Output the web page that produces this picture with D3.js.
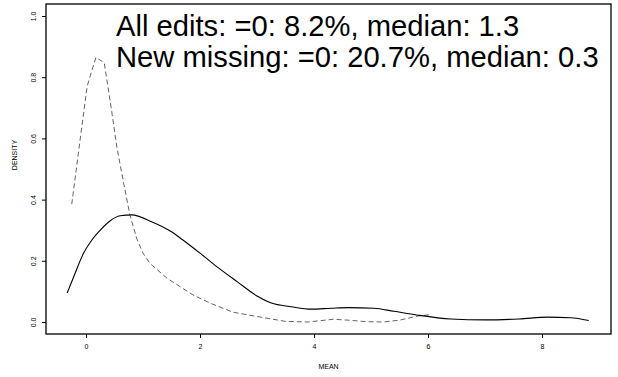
<!DOCTYPE html>
<html>
<head>
<meta charset="utf-8">
<script src="https://cdn.jsdelivr.net/npm/d3@7"></script>
<style>
  html, body { margin: 0; padding: 0; background: #fff; }
  svg { display: block; }
  text { font-family: "Liberation Sans", Arial, Helvetica, sans-serif; fill: #000; }
</style>
</head>
<body>
<svg id="chart" width="618" height="377"></svg>
<script>
// Density estimates of MEAN for two groups of edits
const allEditsX = [-0.33, -0.2, -0.05, 0.1, 0.25, 0.42, 0.6, 0.8, 1.15, 1.5, 1.7, 2.0, 2.3, 2.65, 3.0, 3.25, 3.6, 3.95, 4.3, 4.6, 5.05, 5.4, 5.8, 6.4, 7.0, 7.6, 8.1, 8.5, 8.82];
const allEditsY = [0.095, 0.155, 0.222, 0.267, 0.3, 0.33, 0.347, 0.35, 0.328, 0.295, 0.268, 0.225, 0.18, 0.132, 0.085, 0.062, 0.05, 0.042, 0.045, 0.047, 0.045, 0.035, 0.023, 0.01, 0.007, 0.01, 0.016, 0.014, 0.005];

const newMissingX = [-0.25, -0.1, 0.02, 0.1, 0.175, 0.32, 0.45, 0.54, 0.65, 0.77, 0.89, 1.0, 1.12, 1.42, 1.88, 2.2, 2.58, 3.0, 3.5, 3.9, 4.34, 4.6, 4.93, 5.22, 5.5, 5.83, 6.05];
const newMissingY = [0.385, 0.6, 0.77, 0.82, 0.865, 0.847, 0.69, 0.573, 0.464, 0.35, 0.273, 0.225, 0.192, 0.143, 0.088, 0.06, 0.032, 0.018, 0.002, 0.0, 0.009, 0.006, 0.001, 0.0, 0.006, 0.02, 0.024];

const xTicks = [0, 2, 4, 6, 8];
const yTicks = [0.0, 0.2, 0.4, 0.6, 0.8, 1.0];
const yTickLabels = ["0.0", "0.2", "0.4", "0.6", "0.8", "1.0"];

const legendLines = [
  "All edits: =0: 8.2%, median: 1.3",
  "New missing: =0: 20.7%, median: 0.3"
];
const xLabel = "MEAN";
const yLabel = "DENSITY";

const svg = d3.select("#chart");
const box = { left: 46, right: 611, top: 4, bottom: 334 };

const x = d3.scaleLinear().domain([0, 8]).range([86, 542]);
const y = d3.scaleLinear().domain([0, 1]).range([322, 16]);

// x axis
const xAxis = d3.axisBottom(x).tickValues(xTicks).tickFormat(d3.format("d")).tickSize(4).tickPadding(6);
const gx = svg.append("g").attr("transform", `translate(0,${box.bottom})`).call(xAxis);
gx.select(".domain").remove();
gx.selectAll("line").attr("stroke", "#000").attr("stroke-width", 1);
gx.selectAll("text").attr("font-size", 7).attr("fill", "#000")
  .style("font-family", "'Liberation Sans', Arial, sans-serif");

// y axis with labels parallel to the axis
const yAxis = d3.axisLeft(y).tickValues(yTicks).tickFormat((d, i) => yTickLabels[i]).tickSize(4).tickPadding(6);
const gy = svg.append("g").attr("transform", `translate(${box.left},0)`).call(yAxis);
gy.select(".domain").remove();
gy.selectAll("line").attr("stroke", "#000").attr("stroke-width", 1);
gy.selectAll("text")
  .attr("font-size", 7).attr("fill", "#000")
  .style("font-family", "'Liberation Sans', Arial, sans-serif")
  .attr("x", null).attr("dy", null)
  .attr("text-anchor", "middle")
  .attr("transform", "translate(-12,0) rotate(-90)")
  .attr("dominant-baseline", "middle");

// plot frame
svg.append("rect")
  .attr("x", box.left).attr("y", box.top)
  .attr("width", box.right - box.left).attr("height", box.bottom - box.top)
  .attr("fill", "none").attr("stroke", "#000").attr("stroke-width", 1.3);

// axis titles
svg.append("text").attr("x", (box.left + box.right) / 2).attr("y", 369)
  .attr("text-anchor", "middle").attr("font-size", 7).text(xLabel);
svg.append("text")
  .attr("transform", `translate(17,${(box.top + box.bottom) / 2 - 14}) rotate(-90)`)
  .attr("text-anchor", "middle").attr("font-size", 7).text(yLabel);

// density curves
const solidLine = d3.line().x(d => x(d[0])).y(d => y(d[1])).curve(d3.curveMonotoneX);
const dashLine = d3.line().x(d => x(d[0])).y(d => y(d[1])).curve(d3.curveLinear);

svg.append("path")
  .datum(newMissingX.map((v, i) => [v, newMissingY[i]]))
  .attr("d", dashLine)
  .attr("fill", "none").attr("stroke", "#3a3a3a").attr("stroke-width", 0.8)
  .attr("stroke-dasharray", "5,3");

svg.append("path")
  .datum(allEditsX.map((v, i) => [v, allEditsY[i]]))
  .attr("d", solidLine)
  .attr("fill", "none").attr("stroke", "#000").attr("stroke-width", 1.1);

// legend text, fitted to a common right edge
const leg = svg.append("g");
const legTexts = legendLines.map((t, i) =>
  leg.append("text").attr("x", 116).attr("y", 36 + i * 31)
    .attr("font-size", 29.2).text(t));
</script>
</body>
</html>
